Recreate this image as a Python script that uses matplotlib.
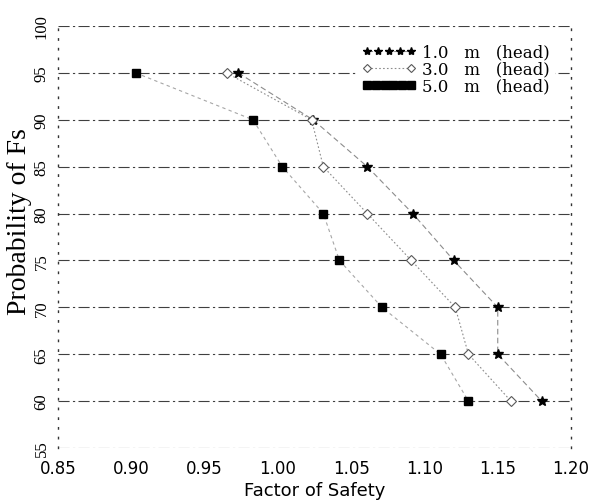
import matplotlib
matplotlib.use("Agg")
import matplotlib.pyplot as plt
from matplotlib.legend_handler import HandlerLine2D

# Data
prob = [95, 90, 85, 80, 75, 70, 65, 60]
fs_1m = [0.973, 1.024, 1.061, 1.092, 1.120, 1.150, 1.150, 1.180]
fs_3m = [0.965, 1.023, 1.031, 1.061, 1.091, 1.121, 1.130, 1.159]
fs_5m = [0.903, 0.983, 1.003, 1.031, 1.042, 1.071, 1.111, 1.130]

labels = ["1.0   m   (head)", "3.0   m   (head)", "5.0   m   (head)"]
xticks = [0.85, 0.90, 0.95, 1.00, 1.05, 1.10, 1.15, 1.20]
yticks = [55, 60, 65, 70, 75, 80, 85, 90, 95, 100]

fig = plt.figure(figsize=(5.89, 5.02), dpi=100)
ax = fig.add_axes([0.0985, 0.1056, 0.871, 0.8406])

l1, = ax.plot(fs_1m, prob, linestyle=(0, (5, 3)), color="0.55", lw=0.8,
              marker="*", markersize=7, markerfacecolor="black",
              markeredgecolor="black", label=labels[0], zorder=3)
l2, = ax.plot(fs_3m, prob, linestyle=(0, (1.5, 2)), color="0.55", lw=0.8,
              marker="D", markersize=5, markerfacecolor="white",
              markeredgecolor="0.35", markeredgewidth=0.8, label=labels[1], zorder=3)
l3, = ax.plot(fs_5m, prob, linestyle=(0, (3, 3)), color="0.65", lw=0.8,
              marker="s", markersize=6, markerfacecolor="black",
              markeredgecolor="black", label=labels[2], zorder=3)

ax.set_xlim(0.85, 1.20)
ax.set_ylim(55, 100)
ax.set_xticks(xticks)
ax.set_xticklabels([f"{v:.2f}" for v in xticks], family="DejaVu Sans", fontsize=12)
ax.set_yticks(yticks)
ax.set_yticklabels([str(v) for v in yticks], family="Liberation Serif", fontsize=12,
                   rotation=90, va="center")
ax.tick_params(axis="both", length=0)
ax.tick_params(axis="y", pad=6)
ax.tick_params(axis="x", pad=8)

ax.grid(axis="y", color="0.25", lw=0.8, linestyle=(0, (10, 3, 2, 3)))
ax.grid(axis="x", visible=False)
ax.set_axisbelow(True)

for s in ["top", "bottom"]:
    ax.spines[s].set_visible(False)
for s in ["left", "right"]:
    ax.spines[s].set_linestyle((0, (1, 6)))
    ax.spines[s].set_linewidth(1.0)
    ax.spines[s].set_color("0.2")

ax.set_xlabel("Factor of Safety", family="DejaVu Sans", fontsize=13, labelpad=3)
ax.set_ylabel("Probability of Fs", family="Liberation Serif", fontsize=20)
ax.yaxis.set_label_coords(-0.05, 0.54)

leg = ax.legend(handles=[l1, l2, l3], loc="upper right",
                bbox_to_anchor=(0.985, 0.99), frameon=True, fancybox=False,
                edgecolor="none", facecolor="white", framealpha=1.0,
                prop={"family": "DejaVu Serif", "size": 12},
                handlelength=3.2, handletextpad=0.4, labelspacing=0.0,
                borderpad=0.3, markerscale=0.85,
                handler_map={l1: HandlerLine2D(numpoints=5),
                             l2: HandlerLine2D(numpoints=2),
                             l3: HandlerLine2D(numpoints=6)})

fig.savefig("out.png", dpi=100)
